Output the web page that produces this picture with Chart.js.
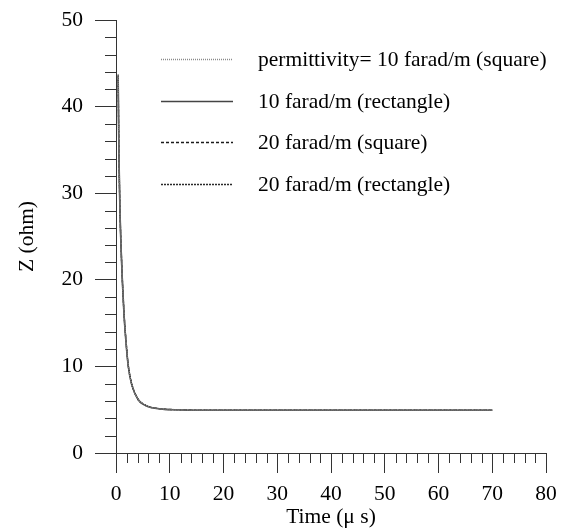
<!DOCTYPE html>
<html>
<head>
<meta charset="utf-8">
<script src="https://cdn.jsdelivr.net/npm/chart.js@4.4.1/dist/chart.umd.min.js"></script>
<style>
  html, body { margin: 0; padding: 0; background: #fff; }
  #wrap { width: 561px; height: 530px; }
</style>
</head>
<body>
<div id="wrap"><canvas id="c" width="561" height="530"></canvas></div>
<script>
// Time axis (microseconds) shared by every series
const timeUs = [0.4, 0.55, 0.74, 0.93, 1.18, 1.5, 1.98, 2.3, 2.9, 4.1, 5.2, 6.3, 7.6, 9, 11, 15, 20, 25, 30, 35, 40, 45, 50, 55, 60, 65, 70];

// Impedance Z (ohm) for each permittivity / electrode shape
const zSquare10 = [43.6, 34.5, 28.0, 24.0, 20.0, 16.0, 12.0, 10.0, 8.0, 6.2, 5.6, 5.3, 5.15, 5.05, 5.0, 4.95, 4.95, 4.95, 4.95, 4.95, 4.95, 4.95, 4.95, 4.95, 4.95, 4.95, 4.95];
const zRect10   = [43.4, 34.3, 27.9, 23.9, 19.9, 15.9, 11.9, 9.95, 7.95, 6.18, 5.58, 5.28, 5.14, 5.04, 4.99, 4.94, 4.94, 4.94, 4.94, 4.94, 4.94, 4.94, 4.94, 4.94, 4.94, 4.94, 4.94];
const zSquare20 = [43.7, 34.6, 28.1, 24.1, 20.1, 16.1, 12.1, 10.05, 8.05, 6.22, 5.62, 5.31, 5.16, 5.06, 5.01, 4.96, 4.96, 4.96, 4.96, 4.96, 4.96, 4.96, 4.96, 4.96, 4.96, 4.96, 4.96];
const zRect20   = [43.5, 34.4, 28.0, 24.0, 20.0, 16.0, 12.0, 10.0, 8.0, 6.2, 5.6, 5.3, 5.15, 5.05, 5.0, 4.95, 4.95, 4.95, 4.95, 4.95, 4.95, 4.95, 4.95, 4.95, 4.95, 4.95, 4.95];

const seriesLabels = [
  'permittivity= 10 farad/m (square)',
  '10 farad/m (rectangle)',
  '20 farad/m (square)',
  '20 farad/m (rectangle)'
];

const xTicks = [0, 10, 20, 30, 40, 50, 60, 70, 80];
const yTicks = [0, 10, 20, 30, 40, 50];

const FONT = "'Liberation Serif', 'Times New Roman', serif";
const FS = 21.5;
const AXIS = '#333';

const toPoints = (ys) => timeUs.map((t, i) => ({ x: t, y: ys[i] }));

const styles = [
  { color: '#8a8a8a', dash: [1, 1], width: 1.6 },
  { color: '#444444', dash: [],     width: 1.6 },
  { color: '#1a1a1a', dash: [3, 2], width: 1.3 },
  { color: '#2a2a2a', dash: [2, 1], width: 1.3 }
];

const datasets = [zSquare10, zRect10, zSquare20, zRect20].map((ys, i) => ({
  label: seriesLabels[i],
  data: toPoints(ys),
  borderColor: styles[i].color,
  borderDash: styles[i].dash,
  borderWidth: styles[i].width,
  pointRadius: 0,
  cubicInterpolationMode: 'monotone',
  fill: false
}));

// Minor ticks every 2 units, drawn outward from the axes
const minorTicks = {
  id: 'minorTicks',
  afterDraw(chart) {
    const { ctx } = chart;
    const xs = chart.scales.x, ys = chart.scales.y;
    const y0 = ys.getPixelForValue(0), x0 = xs.getPixelForValue(0);
    ctx.save();
    ctx.strokeStyle = AXIS;
    ctx.lineWidth = 1;
    ctx.beginPath();
    for (let v = 2; v < 80; v += 2) {
      if (v % 10 === 0) continue;
      const px = Math.round(xs.getPixelForValue(v)) + 0.5;
      ctx.moveTo(px, y0);
      ctx.lineTo(px, y0 + 10);
    }
    for (let v = 2; v < 50; v += 2) {
      if (v % 10 === 0) continue;
      const py = Math.round(ys.getPixelForValue(v)) + 0.5;
      ctx.moveTo(x0, py);
      ctx.lineTo(x0 - 11, py);
    }
    ctx.stroke();
    ctx.restore();
  }
};

// Key drawn inside the plot area, upper right
const innerLegend = {
  id: 'innerLegend',
  afterDraw(chart) {
    const { ctx } = chart;
    const x1 = 161, x2 = 233, tx = 258;
    const rows = [59, 101, 142, 184];
    ctx.save();
    ctx.font = FS + 'px ' + FONT;
    ctx.textBaseline = 'middle';
    ctx.fillStyle = '#000';
    chart.data.datasets.forEach((ds, i) => {
      const y = rows[i] + 0.5;
      ctx.strokeStyle = ds.borderColor;
      ctx.lineWidth = ds.borderWidth;
      ctx.setLineDash(ds.borderDash);
      ctx.beginPath();
      ctx.moveTo(x1, y);
      ctx.lineTo(x2, y);
      ctx.stroke();
      ctx.setLineDash([]);
      ctx.fillText(ds.label, tx, rows[i] + 1);
    });
    ctx.restore();
  }
};

const noScalePadding = (scale) => {
  scale.paddingTop = 0; scale.paddingBottom = 0;
  scale.paddingLeft = 0; scale.paddingRight = 0;
};

new Chart(document.getElementById('c'), {
  type: 'line',
  data: { datasets },
  options: {
    responsive: false,
    animation: false,
    layout: { padding: { left: 0, right: 15, top: 20, bottom: 0 } },
    plugins: {
      legend: { display: false },
      tooltip: { enabled: false }
    },
    scales: {
      x: {
        type: 'linear',
        min: 0, max: 80,
        afterBuildTicks(scale) { scale.ticks = xTicks.map(v => ({ value: v })); },
        afterFit(scale) { scale.height = 77; noScalePadding(scale); },
        grid: { drawOnChartArea: false, drawTicks: true, tickLength: 20, color: AXIS, lineWidth: 1 },
        border: { display: true, color: AXIS, width: 1 },
        ticks: { color: '#000', font: { family: FONT, size: FS }, padding: 8, maxRotation: 0 },
        title: { display: true, text: 'Time (\u03bc s)', color: '#000', font: { family: FONT, size: FS }, padding: { top: 2, bottom: 0 } }
      },
      y: {
        type: 'linear',
        min: 0, max: 50,
        afterBuildTicks(scale) { scale.ticks = yTicks.map(v => ({ value: v })); },
        afterFit(scale) { scale.width = 116; noScalePadding(scale); },
        grid: { drawOnChartArea: false, drawTicks: true, tickLength: 21, color: AXIS, lineWidth: 1 },
        border: { display: true, color: AXIS, width: 1 },
        ticks: { color: '#000', font: { family: FONT, size: FS }, padding: 12 },
        title: { display: true, text: 'Z (ohm)', color: '#000', font: { family: FONT, size: FS }, padding: { top: 14, bottom: 0 } }
      }
    }
  },
  plugins: [minorTicks, innerLegend]
});
</script>
</body>
</html>
